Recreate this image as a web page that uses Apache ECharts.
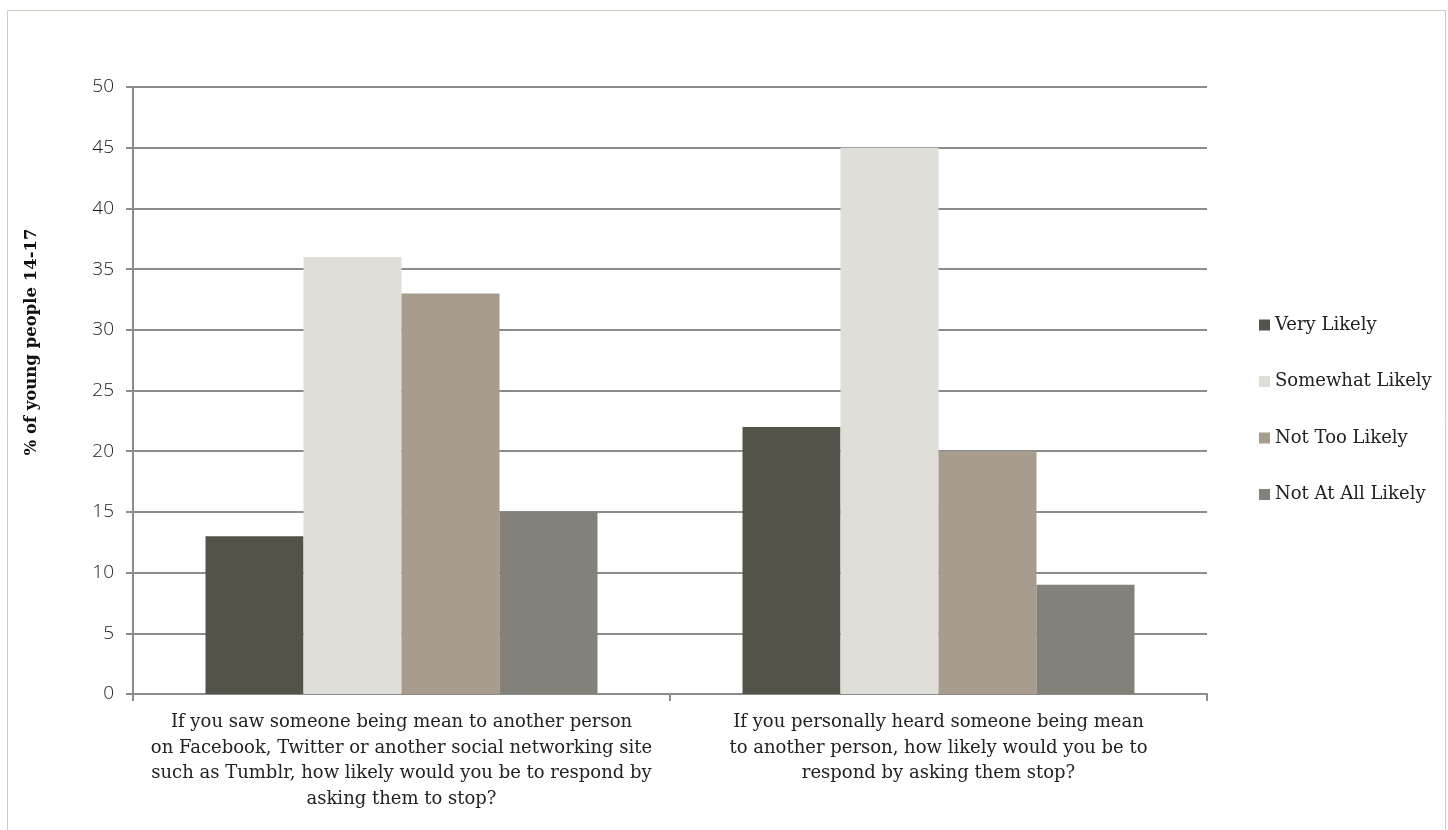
<!DOCTYPE html>
<html>
<head>
<meta charset="utf-8">
<script src="https://cdn.jsdelivr.net/npm/echarts@6/dist/echarts.min.js"></script>
<style>
html,body{margin:0;padding:0;background:#fff;}
#chart{width:1448px;height:830px;}
</style>
</head>
<body>
<div id="chart"></div>
<script>
var categories = [
  "If you saw someone being mean to another person\non Facebook, Twitter or another social networking site\nsuch as Tumblr, how likely would you be to respond by\nasking them to stop?",
  "If you personally heard someone being mean\nto another person, how likely would you be to\nrespond by asking them stop?"
];
var seriesNames = ["Very Likely", "Somewhat Likely", "Not Too Likely", "Not At All Likely"];
var veryLikely = [13, 22];
var somewhatLikely = [36, 45];
var notTooLikely = [33, 20];
var notAtAllLikely = [15, 9];
var yTicks = [0, 5, 10, 15, 20, 25, 30, 35, 40, 45, 50];
var yAxisTitle = '% of young people 14-17';

var colors = ["#53534a", "#e0ded8", "#a89c8e", "#84817b"];
var values = [veryLikely, somewhatLikely, notTooLikely, notAtAllLikely];
var serif = "DejaVu Serif";
var gridColor = "#8c8c8c";

var chart = echarts.init(document.getElementById('chart'));
chart.setOption({
  animation: false,
  color: colors,
  graphic: [{
    type: 'rect',
    left: 5, top: 8,
    shape: {width: 1438, height: 830},
    style: {fill: 'none', stroke: '#d6cbbf', lineWidth: 1},
    silent: true
  }, {
    type: 'text',
    x: 32, y: 342,
    rotation: Math.PI / 2,
    style: {
      text: yAxisTitle,
      fill: '#111',
      font: 'bold 16.5px "DejaVu Serif"',
      align: 'center',
      verticalAlign: 'middle'
    },
    silent: true
  }],
  grid: {left: 133, right: 241, top: 87, bottom: 136, containLabel: false},
  legend: {
    orient: 'vertical',
    left: 1254,
    top: 311,
    icon: 'rect',
    itemWidth: 11,
    itemHeight: 11,
    itemGap: 38.5,
    data: seriesNames,
    textStyle: {fontFamily: serif, fontSize: 18, color: '#222'}
  },
  xAxis: {
    type: 'category',
    data: categories,
    axisLine: {lineStyle: {color: gridColor, width: 2}},
    axisTick: {show: true, length: 7, alignWithLabel: false, lineStyle: {color: gridColor, width: 2}},
    axisLabel: {
      fontFamily: serif, fontSize: 18, color: '#222', lineHeight: 25.5,
      margin: 16, interval: 0, align: 'center'
    }
  },
  yAxis: {
    type: 'value',
    min: 0, max: 50, interval: 5,
    axisLine: {show: true, lineStyle: {color: gridColor, width: 2}},
    axisTick: {show: true, length: 7, lineStyle: {color: gridColor, width: 2}},
    splitLine: {show: true, lineStyle: {color: gridColor, width: 2}},
    axisLabel: {fontFamily: 'Open Sans', fontSize: 19, fontWeight: 300, color: '#1a1a1a', margin: 19,
      formatter: function(v){ return yTicks.indexOf(v) >= 0 ? String(v) : ''; }}
  },
  series: seriesNames.map(function(n, i){
    return {
      name: n,
      type: 'bar',
      data: values[i],
      barGap: '0%',
      barCategoryGap: '27%',
      itemStyle: {color: colors[i]}
    };
  })
});
</script>
</body>
</html>
